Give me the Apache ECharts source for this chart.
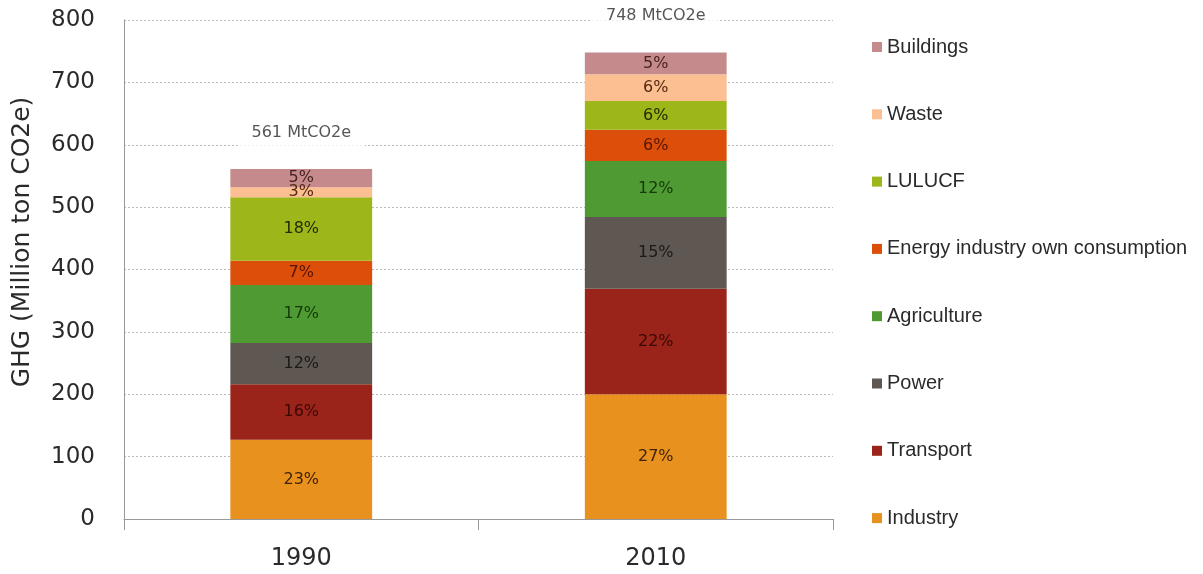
<!DOCTYPE html>
<html>
<head>
<meta charset="utf-8">
<script src="https://cdn.jsdelivr.net/npm/echarts@6/dist/echarts.min.js"></script>
<style>
html,body{margin:0;padding:0;background:#fff;}
#chart{width:1203px;height:574px;}
</style>
</head>
<body>
<div id="chart"></div>
<script>
var categories = ['1990', '2010'];
var totals = [561, 748];
var industry = [127, 200];
var transport = [89, 169];
var power = [66, 115];
var agriculture = [93, 90];
var energyOwn = [39, 50];
var lulucf = [102, 46];
var waste = [16, 43];
var buildings = [29, 35];

var pctIndustry = ['23%', '27%'];
var pctTransport = ['16%', '22%'];
var pctPower = ['12%', '15%'];
var pctAgriculture = ['17%', '12%'];
var pctEnergyOwn = ['7%', '6%'];
var pctLulucf = ['18%', '6%'];
var pctWaste = ['3%', '6%'];
var pctBuildings = ['5%', '5%'];

var yTicks = [0, 100, 200, 300, 400, 500, 600, 700, 800];

function seg(name, data, pct, color, labelColor) {
  return {
    name: name,
    type: 'bar',
    stack: 'total',
    barWidth: '40%',
    data: data,
    itemStyle: { color: color },
    label: {
      show: true,
      position: 'inside',
      fontFamily: 'DejaVu Sans',
      fontSize: 16,
      color: labelColor,
      formatter: function (p) { return pct[p.dataIndex]; }
    },
    emphasis: { disabled: true }
  };
}

var chart = echarts.init(document.getElementById('chart'), null, { renderer: 'canvas' });
chart.setOption({
  animation: false,
  backgroundColor: '#fff',
  grid: { left: 124, right: 370, top: 20, bottom: 55, containLabel: false },
  legend: {
    orient: 'vertical',
    left: 867,
    top: 32,
    icon: 'rect',
    itemWidth: 10,
    itemHeight: 10,
    itemGap: 47.3,
    data: ['Buildings', 'Waste', 'LULUCF', 'Energy industry own consumption', 'Agriculture', 'Power', 'Transport', 'Industry'],
    textStyle: { fontFamily: 'Liberation Sans', fontSize: 20, lineHeight: 20, color: '#2a2a2a' },
    selectedMode: false
  },
  xAxis: {
    type: 'category',
    data: categories,
    axisLine: { lineStyle: { color: '#999' } },
    axisTick: { show: true, length: 11, lineStyle: { color: '#999' } },
    axisLabel: { fontFamily: 'DejaVu Sans', fontSize: 24, color: '#2a2a2a', margin: 28 }
  },
  yAxis: {
    type: 'value',
    min: yTicks[0],
    max: yTicks[yTicks.length - 1],
    interval: 100,
    axisLine: { show: true, lineStyle: { color: '#999' } },
    axisTick: { show: false },
    axisLabel: { fontFamily: 'DejaVu Sans', fontSize: 23, color: '#2a2a2a', margin: 29 },
    splitLine: { show: true, lineStyle: { color: '#bbb', type: [2, 2], width: 1 } }
  },
  graphic: [{
    type: 'text',
    x: 22,
    y: 242,
    rotation: Math.PI / 2,
    style: {
      text: 'GHG (Million ton CO2e)',
      fontFamily: 'DejaVu Sans',
      fontSize: 25,
      fill: '#2a2a2a',
      textAlign: 'center',
      textVerticalAlign: 'middle'
    }
  }],
  series: [
    seg('Industry', industry, pctIndustry, '#E8911F', '#3f2304'),
    seg('Transport', transport, pctTransport, '#9A2419', '#3a0805'),
    seg('Power', power, pctPower, '#5F5751', '#1a1a1a'),
    seg('Agriculture', agriculture, pctAgriculture, '#4F9A33', '#123a0a'),
    seg('Energy industry own consumption', energyOwn, pctEnergyOwn, '#DC4F0A', '#5a1400'),
    seg('LULUCF', lulucf, pctLulucf, '#9DB61A', '#222c04'),
    seg('Waste', waste, pctWaste, '#FBBF92', '#55290f'),
    seg('Buildings', buildings, pctBuildings, '#C48A8C', '#4a2222'),
    {
      name: 'Total',
      type: 'scatter',
      data: totals,
      symbolSize: 1,
      itemStyle: { color: 'rgba(0,0,0,0)' },
      label: {
        show: true,
        position: 'top',
        distance: 22,
        fontFamily: 'DejaVu Sans',
        fontSize: 16,
        color: '#2a2a2a',
        backgroundColor: '#fff',
        padding: [6, 14],
        formatter: function (p) { return totals[p.dataIndex] + ' MtCO2e'; }
      },
      emphasis: { disabled: true },
      z: 5
    }
  ]
});
</script>
</body>
</html>
